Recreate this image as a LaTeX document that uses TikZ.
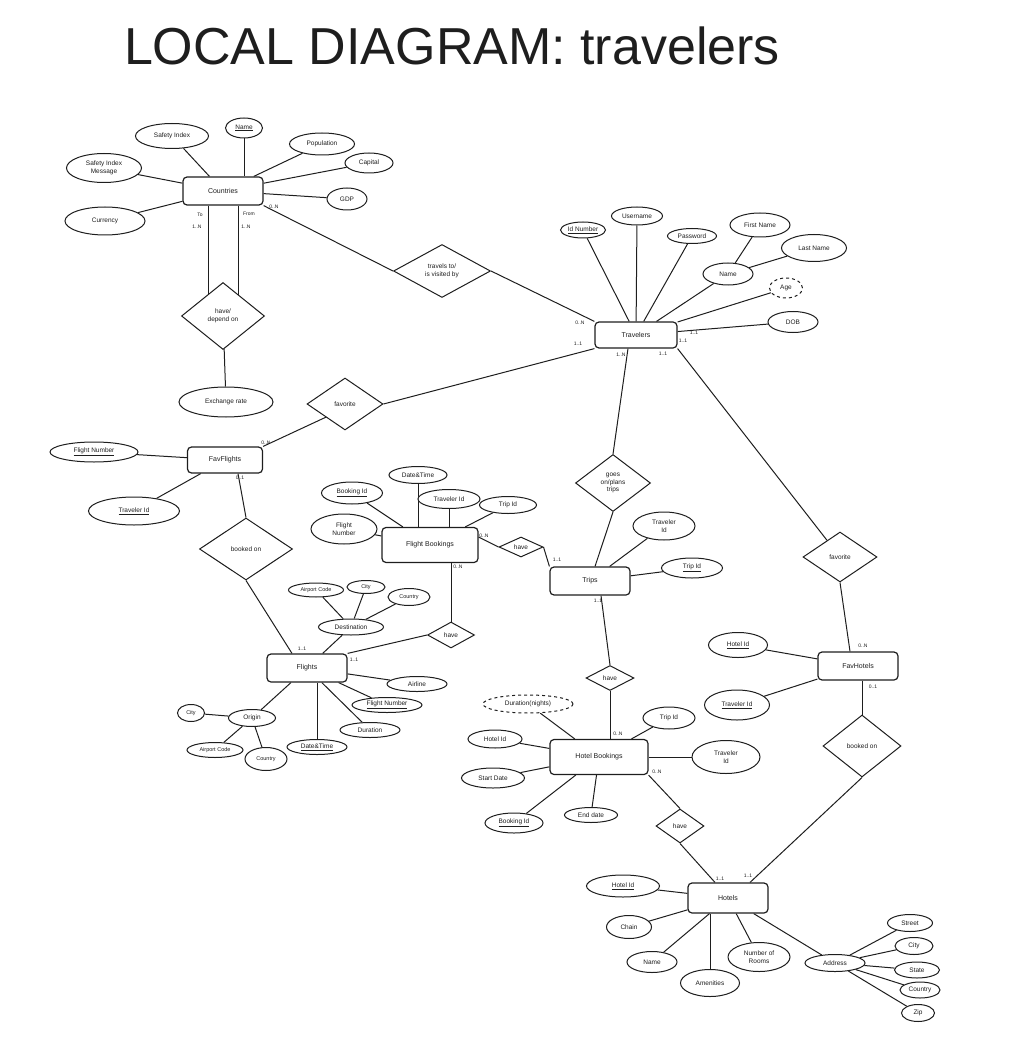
\documentclass[tikz,border=0pt]{standalone}
\usepackage{fontspec}
\setmainfont{Liberation Sans}
\usepackage{xcolor}
\usepackage{tikz}
\usetikzlibrary{shapes.geometric, positioning, backgrounds}
\definecolor{ERInk}{RGB}{30, 30, 30}

\begin{document}
\begin{tikzpicture}[x=1pt,y=-1pt,
  entity/.style={draw=ERInk, line width=1.2pt, rounded corners=4pt, fill=white, inner sep=0pt, text=ERInk, font=\fontsize{7}{8}\selectfont},
  attr/.style={ellipse, draw=ERInk, line width=1pt, fill=white, inner sep=0pt, align=center, text=ERInk, font=\fontsize{6.5}{7.5}\selectfont},
  attrsmall/.style={attr, font=\fontsize{5.5}{6.5}\selectfont},
  rel/.style={diamond, draw=ERInk, line width=1pt, fill=white, inner sep=0pt, align=center, text=ERInk, font=\fontsize{6.5}{7.5}\selectfont},
  card/.style={inner sep=0.5pt, text=ERInk, font=\fontsize{5}{6}\selectfont},
  link/.style={draw=ERInk, line width=1pt}]
  \path[use as bounding box] (0,0) rectangle (1024,1056);

  % Title
  \node[text=ERInk, font=\fontsize{52}{56}\selectfont] (title) at (452,46) {LOCAL DIAGRAM: travelers};

  % Entities
  \foreach \id/\px/\py/\w/\h/\txt in {
    Countries/223/191/80/28/Countries,
    Travelers/636/335/82/26/Travelers,
    FavFlights/225/460/75/26/FavFlights,
    FlightBookings/430/545/96/35/Flight Bookings,
    Trips/590/581/80/28/Trips,
    Flights/307/668/80/28/Flights,
    FavHotels/858/666/80/28/FavHotels,
    HotelBookings/599/757/98/35/Hotel Bookings,
    Hotels/728/898/80/30/Hotels}{
    \node[entity, minimum width=\w pt, minimum height=\h pt] (\id) at (\px,\py) {\txt};
  }

  % Relationships
  \foreach \id/\px/\py/\w/\h/\txt in {
    travels/442/271/97/53/{travels to/\\is visited by},
    haveDep/223/316/83/67/{have/\\depend on},
    favL/345/404/76/52/{favorite},
    bookL/246/549/93/62/{booked on},
    haveFT/521/547/44/20/{have},
    haveF/451/635/47/26/{have},
    goes/613/483/75/57/{goes\\on/plans\\trips},
    haveTH/610/678/48/25/{have},
    favR/840/557/74/50/{favorite},
    bookR/862/746/78/62/{booked on},
    haveHH/680/826/48/34/{have}}{
    \node[rel, minimum width=\w pt, minimum height=\h pt] (\id) at (\px,\py) {\txt};
  }

  % Attributes
  \foreach \id/\px/\py/\w/\h/\txt in {
    aSafety/172/136/73/25/{Safety Index},
    aCName/244/128/37/20/{\underline{Name}},
    aPop/322/144/65/22/{Population},
    aCapital/369/163/48/20/{Capital},
    aGDP/347/199/40/22/{GDP},
    aSafeMsg/104/168/75/29/{Safety Index\\Message},
    aCurrency/105/221/80/28/{Currency},
    aExchange/226/402/94/30/{Exchange rate},
    aIdNum/583/230/45/16/{\underline{Id Number}},
    aUser/637/216/51/18/{Username},
    aPass/692/236/49/15/{Password},
    aTName/728/274/50/22/{Name},
    aFirst/760/225/60/24/{First Name},
    aLast/814/248/65/27/{Last Name},
    aDOB/793/322/50/21/{DOB},
    aFFNum/94/452/88/20/{\underline{Flight Number}},
    aFFTrav/134/511/91/28/{\underline{Traveler Id}},
    aFBBook/352/493/61/22/{\underline{Booking Id}},
    aFBDT/418/475/58/17/{Date\&Time},
    aFBTrav/449/499/62/19/{Traveler Id},
    aFBTrip/508/505/57/17/{Trip Id},
    aFBNum/344/529/66/30/{Flight\\Number},
    aTTrav/664/526/62/28/{Traveler\\Id},
    aTTrip/692/568/61/20/{\underline{Trip Id}},
    aDest/351/627/65/16/{Destination},
    aAirline/417/684/60/15/{Airline},
    aFNum/387/705/70/15/{\underline{Flight Number}},
    aDur/370/730/60/15/{Duration},
    aFDT/317/747/60/15/{\underline{Date\&Time}},
    aOrigin/252/718/47/17/{Origin},
    aHBHotel/495/739/54/18/{Hotel Id},
    aHBStart/493/778/63/20/{Start Date},
    aHBBook/514/823/58/20/{\underline{Booking Id}},
    aHBEnd/591/815/53/15/{End date},
    aHBTrip/669/718/52/22/{Trip Id},
    aHBTrav/726/757/68/33/{Traveler\\Id},
    aFHHotel/738/645/59/25/{\underline{Hotel Id}},
    aFHTrav/737/705/65/30/{\underline{Traveler Id}},
    aHHotel/623/886/73/22/{\underline{Hotel Id}},
    aChain/629/927/45/23/{Chain},
    aHName/652/962/50/21/{Name},
    aAmen/710/983/59/27/{Amenities},
    aRooms/759/957/62/29/{Number of\\Rooms},
    aAddr/835/963/60/17/{Address},
    aStreet/910/923/45/17/{Street},
    aACity/914/946/38/17/{City},
    aState/917/970/45/16/{State},
    aACountry/920/990/40/16/{Country},
    aZip/918/1013/33/17/{Zip}}{
    \node[attr, minimum width=\w pt, minimum height=\h pt] (\id) at (\px,\py) {\txt};
  }
  \foreach \id/\px/\py/\w/\h/\txt in {
    aDCode/316/590/55/14/{Airport Code},
    aDCity/366/587/38/13/{City},
    aDCountry/409/597/42/17/{Country},
    aOCity/191/713/27/17/{City},
    aOCode/215/750/56/15/{Airport Code},
    aOCountry/266/759/42/23/{Country}}{
    \node[attrsmall, minimum width=\w pt, minimum height=\h pt] (\id) at (\px,\py) {\txt};
  }
  % derived attributes
  \node[attr, dashed, minimum width=33pt, minimum height=20pt] (aAge) at (786,288) {Age};
  \node[attr, dashed, minimum width=90pt, minimum height=18pt] (aDurN) at (528,704) {Duration(nights)};

  % Cardinalities
  \foreach \id/\px/\py/\txt in {
    kCoTo/200/215/{To}, kCoToN/197/227/{1..N}, kCoFrom/249/214/{From}, kCoFromN/246/227/{1..N},
    kCoTr/274/207/{0..N},
    kTrTv/580/323/{0..N}, kTrFav/578/344/{1..1}, kTrA/694/333/{1..1}, kTrB/683/341/{1..1},
    kTrGo/621/355/{1..N}, kTrFavR/663/354/{1..1},
    kFFav/266/443/{0..N}, kFBook/240/478/{0..1},
    kFlBook/302/649/{1..1}, kFlHave/354/660/{1..1},
    kFBHaveT/484/536/{0..N}, kFBHaveF/458/567/{0..N},
    kTpHave/557/560/{1..1}, kTpHaveH/598/601/{1..1},
    kHBTp/618/734/{0..N}, kHBHo/657/772/{0..N},
    kFHFav/863/646/{0..N}, kFHBook/873/687/{0..1},
    kHoHave/720/879/{1..1}, kHoBook/748/876/{1..1}}{
    \node[card] (\id) at (\px,\py) {\txt};
  }

  \begin{scope}[on background layer]
    % attribute links
    \foreach \a/\b in {aSafety/Countries, aPop/Countries, aCapital/Countries, aGDP/Countries,
      aSafeMsg/Countries, aCurrency/Countries, haveDep/aExchange,
      aIdNum/Travelers, aUser/Travelers, aPass/Travelers, aTName/Travelers, aFirst/aTName,
      aLast/aTName, aAge/Travelers, aDOB/Travelers,
      aFFNum/FavFlights, aFFTrav/FavFlights,
      aFBBook/FlightBookings, aFBTrip/FlightBookings, aFBNum/FlightBookings,
      aTTrav/Trips, aTTrip/Trips,
      aDest/Flights, aDCode/aDest, aDCity/aDest, aDCountry/aDest,
      aAirline/Flights, aFNum/Flights, aDur/Flights, aOrigin/Flights,
      aOCity/aOrigin, aOCode/aOrigin, aOCountry/aOrigin,
      aDurN/HotelBookings, aHBHotel/HotelBookings, aHBStart/HotelBookings, aHBBook/HotelBookings,
      aHBEnd/HotelBookings, aHBTrip/HotelBookings, aHBTrav/HotelBookings,
      aFHHotel/FavHotels, aFHTrav/FavHotels,
      aHHotel/Hotels, aChain/Hotels, aHName/Hotels, aRooms/Hotels, aAddr/Hotels,
      aStreet/aAddr, aACity/aAddr, aState/aAddr, aACountry/aAddr, aZip/aAddr}{
      \draw[link] (\a) -- (\b);
    }
    \draw[link] (aCName) -- (aCName |- Countries.north);
    \draw[link] (aFBDT) -- (aFBDT |- FlightBookings.north);
    \draw[link] (aFBTrav) -- (aFBTrav |- FlightBookings.north);
    \draw[link] (aFDT) -- (aFDT |- Flights.south);
    \draw[link] (aAmen) -- (aAmen |- Hotels.south);

    % relationship links
    \draw[link] ([xshift=-15pt]Countries.south) -- ([xshift=-15pt]haveDep.center);
    \draw[link] ([xshift=15pt]Countries.south) -- ([xshift=15pt]haveDep.center);
    \draw[link] (Countries.south east) -- (travels.west);
    \draw[link] (travels.east) -- (Travelers.north west);
    \draw[link] (favL.east) -- (Travelers.south west);
    \draw[link] (favL.south west) -- (FavFlights.north east);
    \draw[link] ([xshift=13pt]FavFlights.south) -- (bookL.north);
    \draw[link] (bookL.south) -- ([xshift=-15pt]Flights.north);
    \draw[link] (haveF.west) -- (Flights.north east);
    \draw[link] (haveF.north |- FlightBookings.south) -- (haveF.north);
    \draw[link] ([yshift=8pt]FlightBookings.east) -- (haveFT.west);
    \draw[link] (haveFT.east) -- (Trips.north west);
    \draw[link] ([xshift=-8pt]Travelers.south) -- (goes.north);
    \draw[link] (goes.south) -- ([xshift=5pt]Trips.north);
    \draw[link] (Travelers.south east) -- (favR);
    \draw[link] (favR.south) -- ([xshift=-8pt]FavHotels.north);
    \draw[link] ([xshift=4pt]FavHotels.south) -- (bookR.north);
    \draw[link] (bookR.south) -- ([xshift=22pt]Hotels.north);
    \draw[link] ([xshift=11pt]Trips.south) -- (haveTH.north);
    \draw[link] (haveTH.south) -- (haveTH.south |- HotelBookings.north);
    \draw[link] (HotelBookings.south east) -- (haveHH.north);
    \draw[link] (haveHH.south) -- ([xshift=-13pt]Hotels.north);
  \end{scope}
\end{tikzpicture}
\end{document}
